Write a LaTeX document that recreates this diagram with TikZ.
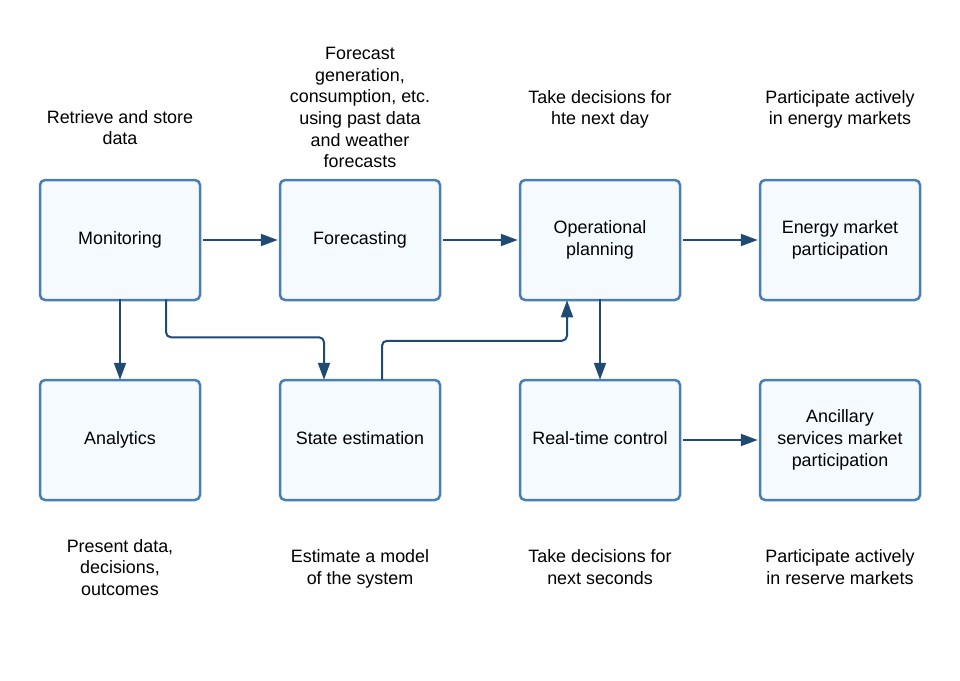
\documentclass[tikz,border=0pt]{standalone}
\usepackage{fontspec}
\setmainfont{Liberation Sans}
\usetikzlibrary{arrows.meta}
\definecolor{boxline}{HTML}{4A7EB4}
\definecolor{boxfill}{HTML}{F5FAFF}
\definecolor{arrowline}{HTML}{1F4A73}
\begin{document}
\begin{tikzpicture}[x=1pt, y=-1pt, font=\fontsize{17.9}{21.7}\selectfont, line join=round,
	>={Triangle[length=17pt, width=12pt]},
	stage/.style={draw=boxline, fill=boxfill, line width=2.5pt, rounded corners=5pt, minimum width=160pt, minimum height=120pt, align=center, inner sep=2pt, text depth=4pt},
	note/.style={align=center, inner sep=0pt},
	link/.style={draw=arrowline, line width=2pt, ->, rounded corners=5pt}]
	\useasboundingbox (0,0) rectangle (960,680);
	% boxes
	\node[stage] (mon) at (120,240) {Monitoring};
	\node[stage] (fc) at (360,240) {Forecasting};
	\node[stage] (op) at (600,240) {Operational\\planning};
	\node[stage] (em) at (840,240) {Energy market\\participation};
	\node[stage] (an) at (120,440) {Analytics};
	\node[stage] (se) at (360,440) {State estimation};
	\node[stage] (rt) at (600,440) {Real-time control};
	\node[stage] (as) at (840,440) {Ancillary\\services market\\participation};
	% notes
	\node[note] (monnote) at (120,127.5) {Retrieve and store\\data};
	\node[note] (fcnote) at (360,107.5) {Forecast\\generation,\\consumption, etc.\\using past data\\and weather\\forecasts};
	\node[note] (opnote) at (600,109.5) {Take decisions for\\hte next day};
	\node[note] (emnote) at (840,109.5) {Participate actively\\in energy markets};
	\node[note] (annote) at (120,567.5) {Present data,\\decisions,\\outcomes};
	\node[note] (senote) at (360,569) {Estimate a model\\of the system};
	\node[note] (rtnote) at (600,567) {Take decisions for\\next seconds};
	\node[note] (asnote) at (840,567) {Participate actively\\in reserve markets};
	% connectors
	\foreach \a/\b in {mon/fc, fc/op, op/em, rt/as}{\path[link] ([xshift=2pt]\a.east) -- ([xshift=-1pt]\b.west);}
	\foreach \a/\b in {mon/an, op/rt}{\path[link] ([yshift=2pt]\a.south) -- ([yshift=-1pt]\b.north);}
	\path[link] ([xshift=46pt,yshift=2pt]mon.south) -- ++(0,38) -| ([xshift=-36pt,yshift=-1pt]se.north);
	\path[link] ([xshift=22pt,yshift=-1pt]se.north) -- ++(0,-39) -| ([xshift=-33pt,yshift=1pt]op.south);
\end{tikzpicture}
\end{document}
